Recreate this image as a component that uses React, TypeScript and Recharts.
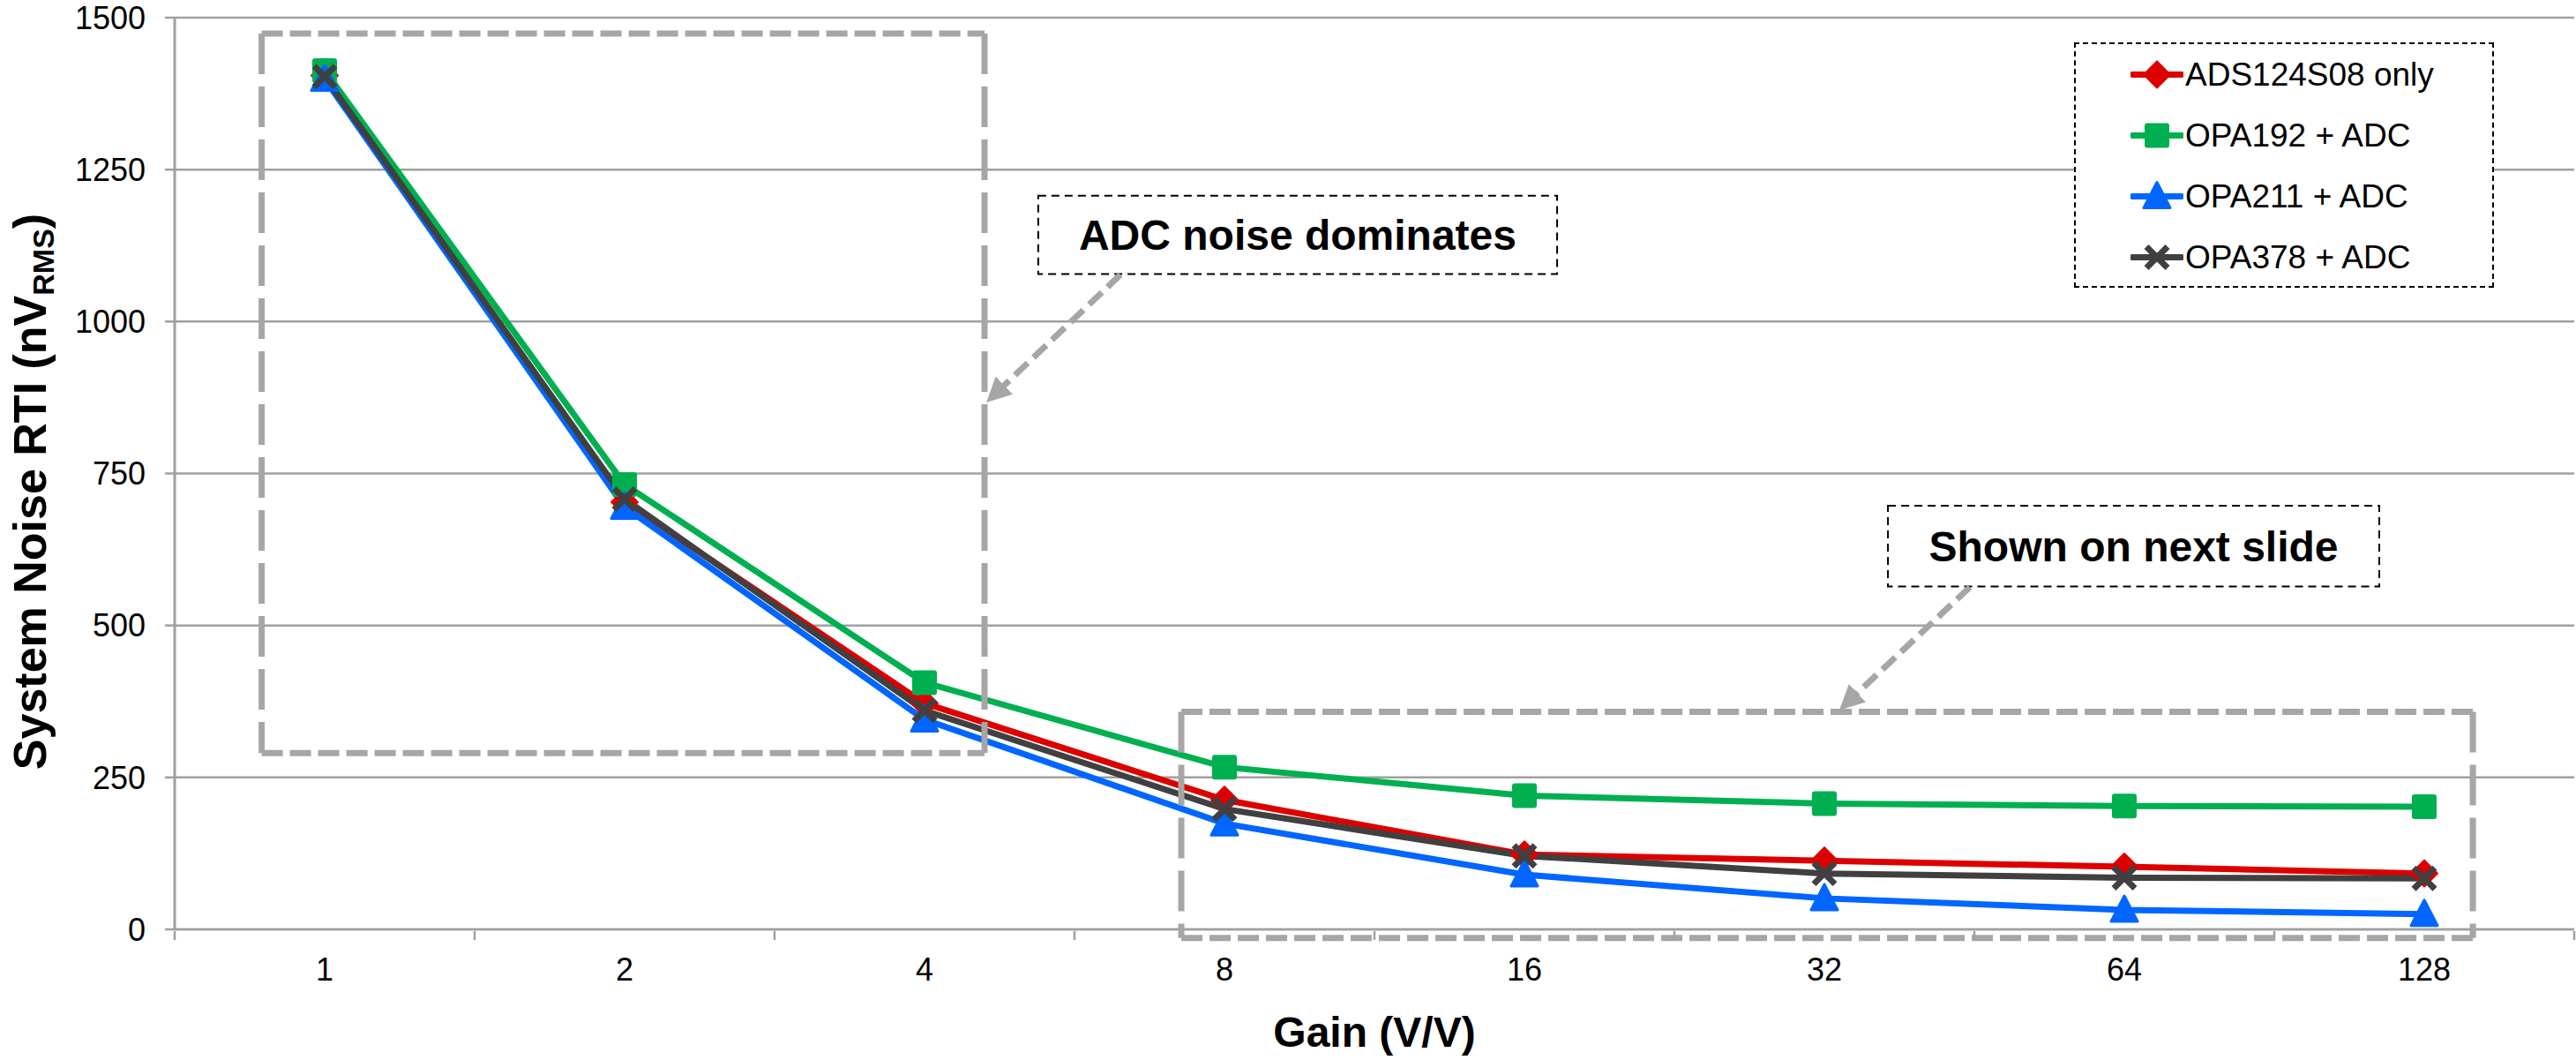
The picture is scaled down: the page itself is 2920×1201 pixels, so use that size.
import React from "react";
import {
  LineChart,
  Line,
  XAxis,
  YAxis,
  CartesianGrid,
  Legend,
  Label,
  ReferenceArea,
  ReferenceLine,
} from "recharts";

const GAINS = ["1", "2", "4", "8", "16", "32", "64", "128"];
const ADS_ONLY = [1405, 703, 372, 213, 123, 113, 103, 92];
const OPA192 = [1413, 732, 406, 267, 220, 207, 203, 202];
const OPA211 = [1399, 695, 345, 174, 90, 51, 32, 25];
const OPA378 = [1403, 708, 360, 198, 121, 92, 85, 84];
const Y_TICKS = [0, 250, 500, 750, 1000, 1250, 1500];

const GRID = "#a0a0a0";
const BOX_GRAY = "#a6a6a6";
const FONT = "'Liberation Sans', Arial, Helvetica, sans-serif";

type Shape = "diamond" | "square" | "triangle" | "cross";

const SERIES: { key: string; name: string; color: string; shape: Shape }[] = [
  { key: "ads", name: "ADS124S08 only", color: "#dd0000", shape: "diamond" },
  { key: "opa192", name: "OPA192 + ADC", color: "#00b050", shape: "square" },
  { key: "opa211", name: "OPA211 + ADC", color: "#0066ff", shape: "triangle" },
  { key: "opa378", name: "OPA378 + ADC", color: "#404040", shape: "cross" },
];

const data = GAINS.map((g, i) => ({
  pos: i + 1,
  gain: g,
  ads: ADS_ONLY[i],
  opa192: OPA192[i],
  opa211: OPA211[i],
  opa378: OPA378[i],
}));

// integer positions carry the labels, half positions the tick marks between categories
const X_TICKS: number[] = [];
GAINS.forEach((_, i) => X_TICKS.push(i + 0.5, i + 1));
X_TICKS.push(GAINS.length + 0.5);

function Marker({ cx, cy, shape, color }: { cx: number; cy: number; shape: Shape; color: string }) {
  if (cx == null || cy == null) return null;
  if (shape === "square") {
    return <rect x={cx - 14} y={cy - 14} width={28} height={28} rx={3} fill={color} />;
  }
  if (shape === "diamond") {
    return (
      <polygon
        points={`${cx},${cy - 15} ${cx + 15},${cy} ${cx},${cy + 15} ${cx - 15},${cy}`}
        fill={color}
        stroke={color}
        strokeWidth={2}
        strokeLinejoin="round"
      />
    );
  }
  if (shape === "triangle") {
    return (
      <polygon
        points={`${cx},${cy - 16} ${cx + 15},${cy + 13} ${cx - 15},${cy + 13}`}
        fill={color}
        stroke={color}
        strokeWidth={3}
        strokeLinejoin="round"
      />
    );
  }
  return (
    <g stroke={color} strokeWidth={7}>
      <line x1={cx - 12} y1={cy - 12} x2={cx + 12} y2={cy + 12} />
      <line x1={cx - 12} y1={cy + 12} x2={cx + 12} y2={cy - 12} />
    </g>
  );
}

function XTick(props: any) {
  const { x, y, payload } = props;
  const v = payload.value;
  if (Number.isInteger(v)) {
    return (
      <text x={x} y={y + 56} textAnchor="middle" fontSize={36} fill="#000" fontFamily={FONT}>
        {GAINS[v - 1]}
      </text>
    );
  }
  return <line x1={x} x2={x} y1={y} y2={y + 10} stroke={GRID} strokeWidth={2.5} />;
}

function GrayBox(props: any) {
  const { x, y, width, height } = props;
  const common = { stroke: BOX_GRAY, strokeWidth: 7, fill: "none" };
  return (
    <g>
      <line x1={x} y1={y} x2={x + width} y2={y} strokeDasharray="24 8" {...common} />
      <line x1={x} y1={y + height} x2={x + width} y2={y + height} strokeDasharray="24 8" {...common} />
      <line x1={x} y1={y} x2={x} y2={y + height} strokeDasharray="46 14" {...common} />
      <line x1={x + width} y1={y} x2={x + width} y2={y + height} strokeDasharray="46 14" {...common} />
    </g>
  );
}

function NoteBox(text: string) {
  return (props: any) => {
    const { x, y, width, height } = props;
    return (
      <g>
        <rect x={x} y={y} width={width} height={height} fill="#fff" stroke="#000" strokeWidth={2} strokeDasharray="9 6" />
        <text
          x={x + width / 2}
          y={y + height / 2 + 17}
          textAnchor="middle"
          fontSize={48}
          fontWeight="bold"
          fill="#000"
          fontFamily={FONT}
        >
          {text}
        </text>
      </g>
    );
  };
}

function Arrow(props: any) {
  const { x1, y1, x2, y2 } = props;
  const dx = x2 - x1;
  const dy = y2 - y1;
  const len = Math.sqrt(dx * dx + dy * dy);
  const ex = x2 - (dx / len) * 18;
  const ey = y2 - (dy / len) * 18;
  return (
    <g>
      <line x1={x1} y1={y1} x2={ex} y2={ey} stroke={BOX_GRAY} strokeWidth={7} strokeDasharray="20 9" />
      <line x1={ex} y1={ey} x2={x2} y2={y2} stroke="none" markerEnd="url(#arrowHead)" />
    </g>
  );
}

function LegendBox(props: any) {
  const { payload } = props;
  return (
    <div
      style={{
        boxSizing: "border-box",
        width: 476,
        height: 278,
        border: "2px dashed #000",
        background: "#fff",
        fontFamily: FONT,
        fontSize: 37,
        color: "#000",
      }}
    >
      {(payload || []).map((p: any) => {
        const s = SERIES.find((d) => d.key === p.dataKey) || SERIES[0];
        return (
          <div key={s.key} style={{ height: 69, display: "flex", alignItems: "center", position: "relative" }}>
            <svg width={60} height={69} style={{ position: "absolute", left: 62, top: 0 }}>
              <line x1={2} y1={34.5} x2={58} y2={34.5} stroke={s.color} strokeWidth={7} strokeLinecap="round" />
              <Marker cx={30} cy={34.5} shape={s.shape} color={s.color} />
            </svg>
            <span style={{ position: "absolute", left: 124, lineHeight: "69px", whiteSpace: "nowrap" }}>{p.value}</span>
          </div>
        );
      })}
    </div>
  );
}

export default function App() {
  return (
    <div style={{ position: "absolute", left: 0, top: 0, width: 2920, height: 1201, background: "#fff", fontFamily: FONT }}>
      <LineChart width={2920} height={1201} data={data} margin={{ top: 20, right: 2, left: 0, bottom: 0 }}>
        <defs>
          <marker
            id="arrowHead"
            markerUnits="userSpaceOnUse"
            viewBox="0 0 10 10"
            refX={10}
            refY={5}
            markerWidth={28}
            markerHeight={28}
            orient="auto"
          >
            <path d="M0,0 L10,5 L0,10 z" fill={BOX_GRAY} />
          </marker>
        </defs>
        <CartesianGrid vertical={false} stroke={GRID} strokeWidth={2.5} />
        <XAxis
          dataKey="pos"
          type="number"
          domain={[0.5, GAINS.length + 0.5]}
          ticks={X_TICKS}
          interval={0}
          tick={<XTick />}
          tickLine={false}
          tickSize={0}
          axisLine={{ stroke: GRID, strokeWidth: 2.5 }}
          height={148}
        >
          <Label
            content={(p: any) => {
              const vb = p.viewBox || {};
              return (
                <text
                  x={vb.x + vb.width / 2}
                  y={1186}
                  textAnchor="middle"
                  fontSize={48}
                  fontWeight="bold"
                  fill="#000"
                  fontFamily={FONT}
                >
                  Gain (V/V)
                </text>
              );
            }}
          />
        </XAxis>
        <YAxis
          type="number"
          domain={[0, 1500]}
          ticks={Y_TICKS}
          interval={0}
          width={198}
          tickSize={11}
          tickMargin={22}
          tick={{ fontSize: 36, fill: "#000", fontFamily: FONT }}
          tickLine={{ stroke: GRID, strokeWidth: 2.5 }}
          axisLine={{ stroke: GRID, strokeWidth: 3 }}
        >
          <Label
            content={() => (
              <text transform="rotate(-90)" x={-557} y={52} textAnchor="middle" fontSize={52} fontWeight="bold" fill="#000" fontFamily={FONT}>
                System Noise RTI (nV
                <tspan fontSize={34} dy={9}>
                  RMS
                </tspan>
                <tspan dy={-9}>)</tspan>
              </text>
            )}
          />
        </YAxis>
        <Legend
          layout="horizontal"
          align="center"
          verticalAlign="middle"
          wrapperStyle={{ left: 2351, top: 48, width: 476, height: 278 }}
          content={<LegendBox />}
        />
        {SERIES.map((s) => (
          <Line
            key={s.key}
            type="linear"
            dataKey={s.key}
            name={s.name}
            stroke={s.color}
            strokeWidth={7}
            isAnimationActive={false}
            activeDot={false}
            dot={(p: any) => <Marker key={`${s.key}-${p.index}`} cx={p.cx} cy={p.cy} shape={s.shape} color={s.color} />}
          />
        ))}
        <ReferenceArea x1={0.79} x2={3.2} y1={290} y2={1474} ifOverflow="visible" shape={GrayBox} zIndex={700} />
        <ReferenceArea x1={3.856} x2={8.162} y1={-14} y2={358} ifOverflow="visible" shape={GrayBox} zIndex={700} />
        <ReferenceArea x1={3.379} x2={5.109} y1={1078} y2={1207} ifOverflow="visible" shape={NoteBox("ADC noise dominates")} zIndex={700} />
        <ReferenceArea x1={6.212} x2={7.85} y1={564} y2={697} ifOverflow="visible" shape={NoteBox("Shown on next slide")} zIndex={700} />
        <ReferenceLine
          segment={[{ x: 3.653, y: 1077 }, { x: 3.206, y: 867 }]}
          ifOverflow="visible"
          shape={Arrow}
          zIndex={700}
        />
        <ReferenceLine
          segment={[{ x: 6.485, y: 563 }, { x: 6.05, y: 361 }]}
          ifOverflow="visible"
          shape={Arrow}
          zIndex={700}
        />
      </LineChart>
    </div>
  );
}
